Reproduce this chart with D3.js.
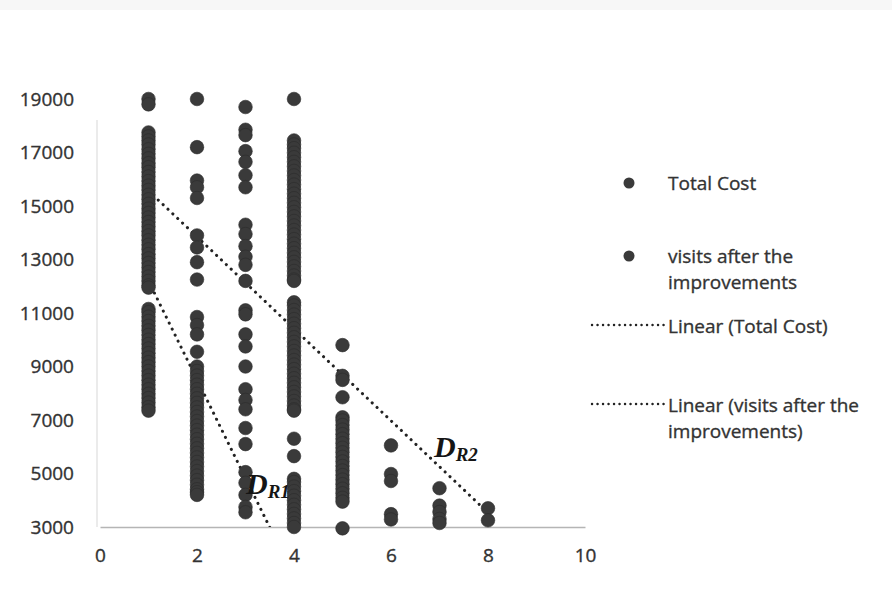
<!DOCTYPE html>
<html>
<head>
<meta charset="utf-8">
<script src="https://cdn.jsdelivr.net/npm/d3@7"></script>
<style>
  body { margin: 0; background: #fff; }
  svg { display: block; font-family: "Open Sans", sans-serif; }
</style>
</head>
<body>
<svg id="chart" width="892" height="600"></svg>
<script>
const totalCostX = [1, 2, 3, 4, 5, 6, 7, 8];
const totalCostY = [
  [19000, 18800, 17750, 17600, 17450, 17300, 17120, 16950, 16780, 16600, 16450, 16270, 16100, 15930, 15760, 15600,
   15420, 15250, 15080, 14900, 14740, 14570, 14400, 14230, 14060, 13900, 13720, 13550, 13380, 13200, 13040, 12870,
   12700, 12530, 12360, 12200, 12030, 11950],
  [19000, 17200, 15950, 15700, 15300, 13900, 13450, 12900, 12250],
  [18700, 17850, 17650, 17050, 16650, 16150, 15700, 14300, 13950, 13500, 13100, 12800, 12200],
  [19000, 17450, 17300, 17160, 16990, 16820, 16650, 16480, 16310, 16140, 15970, 15800, 15630, 15460, 15290, 15120,
   14950, 14780, 14610, 14440, 14270, 14100, 13930, 13760, 13590, 13420, 13250, 13080, 12910, 12740, 12570, 12400,
   12250, 12200],
  [9800, 8650, 8500, 7850, 7100, 6980, 6810, 6640, 6470, 6300, 6130, 5960, 5790, 5620, 5450, 5280, 5110, 4940,
   4770, 4600, 4430, 4260, 4090, 3950, 2950],
  [6050, 4980, 4720, 3480, 3280],
  [4450, 3800, 3560, 3300, 3150],
  [3700, 3250]
];

const visitsX = [1, 2, 3, 4];
const visitsY = [
  [11150, 11030, 10860, 10700, 10520, 10350, 10180, 10000, 9840, 9670, 9500, 9330, 9160, 9000, 8830, 8660, 8490,
   8320, 8150, 7980, 7820, 7650, 7480, 7350],
  [10850, 10550, 10200, 9550, 9000, 8830, 8660, 8490, 8320, 8150, 7980, 7810, 7640, 7470, 7300, 7130, 6960, 6790,
   6620, 6450, 6280, 6110, 5940, 5770, 5600, 5430, 5260, 5090, 4920, 4750, 4580, 4410, 4300, 4200],
  [11100, 10950, 10200, 9750, 9000, 8150, 7750, 7400, 6700, 6100, 5050, 4650, 4200, 3750, 3550],
  [11400, 11280, 11110, 10940, 10770, 10600, 10430, 10260, 10090, 9920, 9750, 9580, 9410, 9240, 9070, 8900, 8730,
   8560, 8390, 8220, 8050, 7880, 7710, 7540, 7400, 7350, 6300, 5650, 4800, 4680, 4510, 4340, 4170, 4000, 3830,
   3660, 3490, 3320, 3150, 3000]
];

// linear trendlines: [intercept, slope, xFrom, xTo]
const totalCostTrend = [17289, -1719, 1, 8];
const visitsTrend = [15884, -3685, 1, 4];

const xTicks = [0, 2, 4, 6, 8, 10];
const yTicks = [3000, 5000, 7000, 9000, 11000, 13000, 15000, 17000, 19000];

const legendItems = ["Total Cost", "visits after the|improvements", "Linear (Total Cost)", "Linear (visits after the|improvements)"];

const svg = d3.select("#chart");
const dotColor = "#3a3a3a";
const textColor = "#333";

// faint scan edge at the top
svg.append("rect").attr("x", 0).attr("y", 0).attr("width", 892).attr("height", 10).attr("fill", "#f7f7f7");

const x = d3.scaleLinear().domain([0, 10]).range([100, 585]);
const y = d3.scaleLinear().domain([3000, 19000]).range([527, 99]);

// axis lines
svg.append("line").attr("x1", 97).attr("x2", 97).attr("y1", 120).attr("y2", y(3000))
  .attr("stroke", "#e4e4e4").attr("stroke-width", 1.5);

const styleText = sel => sel.attr("fill", textColor).attr("stroke", textColor).attr("stroke-width", 0.35)
  .style("font-size", "19px").style("font-family", "Open Sans");

const xAxis = svg.append("g").attr("transform", `translate(0,${y(3000)})`)
  .call(d3.axisBottom(x).tickValues(xTicks).tickSize(0).tickPadding(22));
xAxis.select(".domain").attr("stroke", "#b5b5b5").attr("stroke-width", 1.5);
xAxis.selectAll("text").call(styleText);

const yAxis = svg.append("g").attr("transform", "translate(74,0)")
  .call(d3.axisLeft(y).tickValues(yTicks).tickFormat(d3.format("d")).tickSize(0).tickPadding(0));
yAxis.select(".domain").remove();
yAxis.selectAll("text").call(styleText);

// trendlines
const line = d3.line().x(d => x(d[0])).y(d => y(d[1]));
svg.append("clipPath").attr("id", "plot").append("rect")
  .attr("x", x(0)).attr("y", y(19000)).attr("width", x(10) - x(0)).attr("height", y(3000) - y(19000));

function trendPts(t) {
  return [[t[2], t[0] + t[1] * t[2]], [t[3], t[0] + t[1] * t[3]]];
}
const dotted = sel => sel.attr("fill", "none").attr("stroke", "#222").attr("stroke-width", 3)
  .attr("stroke-linecap", "round").attr("stroke-dasharray", "0.1 6.6");

svg.append("path").attr("d", line(trendPts(totalCostTrend))).attr("clip-path", "url(#plot)").call(dotted);
svg.append("path").attr("d", line(trendPts(visitsTrend))).attr("clip-path", "url(#plot)").call(dotted);

// points
function flatten(xs, ys) {
  return xs.flatMap((xv, i) => ys[i].map(v => [xv, v]));
}
const drawDots = (data) => svg.append("g").selectAll("circle").data(data).join("circle")
  .attr("cx", d => x(d[0])).attr("cy", d => y(d[1])).attr("r", 6.8)
  .attr("fill", dotColor).attr("stroke", "#2c2c2c").attr("stroke-width", 0.6);

drawDots(flatten(visitsX, visitsY));
drawDots(flatten(totalCostX, totalCostY));

// D labels
function dLabel(px, py, sub) {
  const t = svg.append("text").attr("x", px).attr("y", py)
    .style("font-family", "Liberation Serif").style("font-style", "italic").style("font-weight", "bold")
    .attr("fill", "#151515");
  t.append("tspan").text("D").style("font-size", "30px");
  t.append("tspan").text(sub).attr("dy", 4).style("font-size", "19px");
}
dLabel(246, 494, "R1");
dLabel(434, 457, "R2");

// legend
const lg = svg.append("g");
const legendY = [183, 256, 326, 405];
legendItems.forEach((label, i) => {
  const ly = legendY[i];
  if (i < 2) {
    lg.append("circle").attr("cx", 629).attr("cy", ly).attr("r", 5.5).attr("fill", dotColor);
  } else {
    lg.append("line").attr("x1", 592).attr("x2", 664).attr("y1", ly - 1).attr("y2", ly - 1).call(dotted)
      .attr("stroke-width", 2.4).attr("stroke-dasharray", "0.1 5.4");
  }
  label.split("|").forEach((part, j) => {
    lg.append("text").attr("x", 668).attr("y", ly + j * 26).attr("dy", "0.35em").text(part).call(styleText);
  });
});
</script>
</body>
</html>
